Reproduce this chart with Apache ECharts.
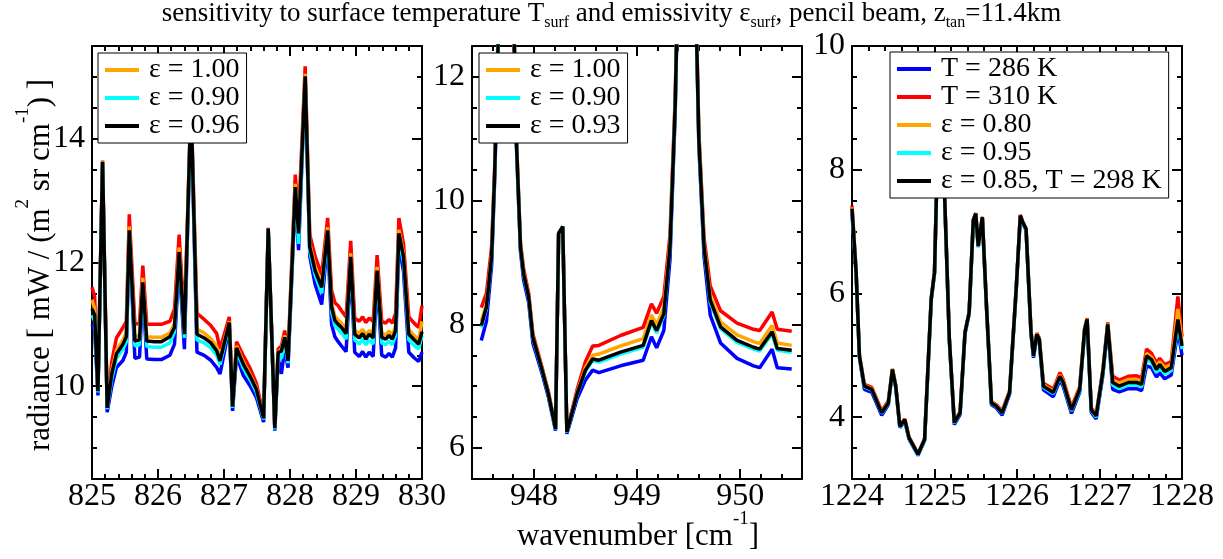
<!DOCTYPE html>
<html>
<head>
<meta charset="utf-8">
<script src="https://cdn.jsdelivr.net/npm/echarts@6/dist/echarts.min.js"></script>
<style>
  html, body { margin: 0; padding: 0; background: #fff; }
  #chart { width: 1223px; height: 559px; }
</style>
</head>
<body>
<div id="chart"></div>
<script>
// ---- panel 1: 825-830 cm-1 (black = eps 0.96) ----
const x1 = [825.00, 825.04, 825.09, 825.16, 825.23, 825.30, 825.37, 825.47, 825.52, 825.565,
  825.65, 825.72, 825.77, 825.83, 825.95, 826.05, 826.18, 826.25, 826.32, 826.40,
  826.50, 826.59, 826.70, 826.80, 826.89, 826.94, 827.08, 827.13, 827.19, 827.29,
  827.40, 827.49, 827.60, 827.67, 827.77, 827.82, 827.87, 827.92, 827.97, 828.08,
  828.13, 828.23, 828.30, 828.38, 828.48, 828.57, 828.63, 828.68, 828.73, 828.78,
  828.85, 828.92, 828.98, 829.05, 829.10, 829.15, 829.20, 829.26, 829.32, 829.39,
  829.45, 829.50, 829.55, 829.60, 829.65, 829.72, 829.80, 829.88, 829.95, 830.00];
const p1Blue = [11.0, 10.9, 9.85, 13.6, 9.58, 10.0, 10.3, 10.42, 10.55, 12.45,
  10.45, 10.47, 11.55, 10.44, 10.43, 10.43, 10.5, 10.68, 12.0, 10.6,
  14.55, 10.55, 10.5, 10.42, 10.3, 10.2, 10.95, 9.6, 10.5, 10.18,
  10.0, 9.82, 9.42, 12.53, 9.28, 10.45, 10.2, 10.6, 10.3, 13.1,
  12.2, 14.95, 12.1, 11.65, 11.32, 12.35, 11.0, 10.8, 10.72, 10.65,
  10.56, 11.95, 10.55, 10.48, 10.56, 10.47, 10.55, 10.48, 11.72, 10.5,
  10.47, 10.53, 10.47, 10.62, 12.3, 11.85, 10.55, 10.46, 10.4, 10.55];
const p1Red = [11.6, 11.45, 9.95, 13.65, 9.68, 10.4, 10.78, 10.95, 11.05, 12.78,
  11.0, 11.02, 11.95, 11.0, 11.0, 11.0, 11.05, 11.25, 12.45, 11.05,
  14.62, 11.18, 11.08, 10.98, 10.85, 10.6, 11.12, 9.7, 10.72, 10.5,
  10.28, 10.05, 9.52, 12.56, 9.33, 10.6, 10.65, 10.9, 10.5, 13.42,
  12.7, 15.17, 12.45, 12.1, 11.8, 12.72, 11.55, 11.35, 11.3, 11.22,
  11.12, 12.35, 11.1, 11.05, 11.12, 11.03, 11.1, 11.05, 12.12, 11.05,
  11.02, 11.08, 11.02, 11.18, 12.72, 12.3, 11.12, 11.02, 10.95, 11.3];
const p1Orange = [11.4, 11.25, 9.93, 13.64, 9.66, 10.25, 10.58, 10.75, 10.87, 12.58,
  10.8, 10.82, 11.75, 10.8, 10.79, 10.79, 10.86, 11.02, 12.24, 10.9,
  14.6, 10.92, 10.86, 10.77, 10.64, 10.46, 11.05, 9.68, 10.65, 10.4,
  10.18, 9.97, 9.5, 12.55, 9.32, 10.55, 10.6, 10.82, 10.44, 13.27,
  12.52, 15.05, 12.3, 11.93, 11.66, 12.57, 11.35, 11.13, 11.07, 11.02,
  10.92, 12.15, 10.9, 10.85, 10.92, 10.83, 10.9, 10.85, 11.93, 10.86,
  10.83, 10.89, 10.83, 10.97, 12.53, 12.15, 10.91, 10.82, 10.75, 11.05];
const p1Cyan = [11.15, 11.05, 9.9, 13.62, 9.63, 10.12, 10.45, 10.6, 10.72, 12.48,
  10.65, 10.67, 11.62, 10.64, 10.63, 10.63, 10.7, 10.88, 12.1, 10.78,
  14.58, 10.75, 10.7, 10.62, 10.5, 10.35, 11.0, 9.65, 10.58, 10.3,
  10.1, 9.9, 9.46, 12.54, 9.3, 10.5, 10.45, 10.72, 10.37, 13.18,
  12.3, 14.98, 12.18, 11.8, 11.5, 12.45, 11.2, 10.98, 10.92, 10.86,
  10.76, 12.02, 10.75, 10.68, 10.76, 10.67, 10.75, 10.68, 11.8, 10.7,
  10.67, 10.73, 10.67, 10.82, 12.4, 12.0, 10.75, 10.66, 10.6, 10.82];
const p1Black = [11.25, 11.15, 9.92, 13.63, 9.65, 10.2, 10.52, 10.68, 10.8, 12.52,
  10.73, 10.75, 11.68, 10.73, 10.72, 10.72, 10.8, 10.95, 12.17, 10.84,
  14.6, 10.84, 10.78, 10.7, 10.57, 10.41, 11.03, 9.67, 10.62, 10.36,
  10.15, 9.95, 9.48, 12.55, 9.32, 10.54, 10.57, 10.79, 10.41, 13.22,
  12.47, 15.01, 12.25, 11.87, 11.6, 12.52, 11.28, 11.06, 11.0, 10.95,
  10.85, 12.09, 10.84, 10.78, 10.85, 10.76, 10.84, 10.78, 11.87, 10.79,
  10.76, 10.82, 10.76, 10.9, 12.47, 12.09, 10.84, 10.75, 10.68, 10.88];

// ---- panel 2: 947.4-950.6 cm-1 (black = eps 0.93) ----
const x2 = [947.49, 947.54, 947.59, 947.62, 947.74, 947.83, 947.87, 947.90, 947.95, 947.99,
  948.08, 948.14, 948.21, 948.24, 948.28, 948.32, 948.42, 948.50, 948.57, 948.63,
  948.84, 949.06, 949.14, 949.19, 949.26, 949.32, 949.37, 949.48, 949.60, 949.65,
  949.71, 949.81, 949.97, 950.13, 950.19, 950.31, 950.36, 950.50];
const p2Blue = [7.74, 8.05, 8.95, 10.35, 18, 10.92, 9.18, 8.72, 8.35, 7.7,
  7.2, 6.83, 6.28, 9.47, 9.58, 6.23, 6.8, 7.1, 7.26, 7.22,
  7.33, 7.42, 7.8, 7.62, 7.9, 9.05, 11.4, 20, 10.88, 9.1,
  8.15, 7.7, 7.45, 7.33, 7.3, 7.6, 7.3, 7.28];
const p2Red = [8.27, 8.5, 9.25, 10.55, 18, 11.05, 9.32, 8.9, 8.5, 7.85,
  7.3, 6.92, 6.33, 9.47, 9.58, 6.28, 6.95, 7.4, 7.65, 7.66,
  7.82, 7.95, 8.33, 8.18, 8.45, 9.45, 11.65, 20, 11.1, 9.4,
  8.62, 8.22, 8.02, 7.92, 7.9, 8.2, 7.92, 7.89];
const p2Orange = [8.05, 8.33, 9.12, 10.47, 18, 11.0, 9.27, 8.84, 8.46, 7.81,
  7.27, 6.89, 6.31, 9.47, 9.58, 6.26, 6.9, 7.3, 7.5, 7.52,
  7.65, 7.77, 8.15, 8.0, 8.27, 9.32, 11.55, 20, 11.02, 9.3,
  8.46, 8.04, 7.83, 7.72, 7.69, 7.98, 7.7, 7.66];
const p2Cyan = [7.95, 8.25, 9.07, 10.44, 18, 10.97, 9.24, 8.8, 8.42, 7.77,
  7.25, 6.87, 6.3, 9.47, 9.58, 6.25, 6.87, 7.24, 7.41, 7.39,
  7.52, 7.63, 8.03, 7.86, 8.14, 9.22, 11.5, 20, 10.96, 9.22,
  8.35, 7.93, 7.71, 7.6, 7.57, 7.85, 7.58, 7.55];
const p2Black = [7.98, 8.28, 9.09, 10.45, 18, 10.98, 9.25, 8.82, 8.44, 7.79,
  7.26, 6.88, 6.31, 9.47, 9.58, 6.26, 6.88, 7.26, 7.44, 7.42,
  7.55, 7.66, 8.06, 7.9, 8.17, 9.25, 11.52, 20, 10.98, 9.25,
  8.39, 7.96, 7.74, 7.63, 7.6, 7.88, 7.61, 7.58];

// ---- panel 3: 1224-1228 cm-1 (black = eps 0.85, T 298 K) ----
const x3 = [1224.00, 1224.05, 1224.09, 1224.15, 1224.24, 1224.36, 1224.44, 1224.49, 1224.53, 1224.58,
  1224.64, 1224.69, 1224.80, 1224.88, 1224.96, 1225.00, 1225.05, 1225.12, 1225.18, 1225.24,
  1225.31, 1225.37, 1225.42, 1225.47, 1225.50, 1225.53, 1225.58, 1225.63, 1225.69, 1225.75,
  1225.82, 1225.91, 1225.99, 1226.04, 1226.07, 1226.11, 1226.17, 1226.20, 1226.24, 1226.27,
  1226.32, 1226.44, 1226.52, 1226.56, 1226.66, 1226.76, 1226.82, 1226.85, 1226.90, 1226.96,
  1227.04, 1227.10, 1227.16, 1227.24, 1227.35, 1227.45, 1227.51, 1227.57, 1227.63, 1227.69,
  1227.73, 1227.79, 1227.87, 1227.95, 1228.00];
const p3Blue = [7.3, 6.3, 4.96, 4.45, 4.4, 4.03, 4.2, 4.75, 4.48, 3.83,
  3.94, 3.65, 3.38, 3.62, 5.89, 6.32, 9.0, 7.67, 5.24, 3.88,
  4.04, 5.35, 5.67, 7.16, 7.27, 6.75, 7.21, 5.78, 4.2, 4.15,
  4.03, 4.37, 6.05, 7.24, 7.13, 7.02, 5.34, 4.96, 5.31, 5.23,
  4.44, 4.33, 4.6, 4.5, 4.06, 4.4, 5.4, 5.56, 4.08, 3.97,
  4.67, 5.46, 4.45, 4.41, 4.46, 4.46, 4.43, 4.83, 4.8, 4.65,
  4.72, 4.62, 4.68, 5.4, 5.0];
const p3Red = [7.42, 6.36, 5.0, 4.53, 4.48, 4.1, 4.26, 4.78, 4.52, 3.86,
  3.97, 3.68, 3.41, 3.65, 5.92, 6.35, 9.0, 7.7, 5.27, 3.92,
  4.09, 5.38, 5.7, 7.19, 7.3, 6.78, 7.24, 5.81, 4.25, 4.2,
  4.1, 4.42, 6.08, 7.27, 7.16, 7.05, 5.39, 5.01, 5.36, 5.28,
  4.55, 4.45, 4.72, 4.61, 4.16, 4.49, 5.44, 5.6, 4.15, 4.05,
  4.76, 5.53, 4.66, 4.6, 4.66, 4.67, 4.63, 5.1, 5.03, 4.88,
  4.95, 4.85, 4.9, 5.95, 5.3];
const p3Orange = [7.39, 6.35, 4.99, 4.51, 4.46, 4.08, 4.24, 4.77, 4.51, 3.85,
  3.96, 3.67, 3.4, 3.64, 5.91, 6.34, 9.0, 7.69, 5.26, 3.91,
  4.08, 5.37, 5.69, 7.18, 7.29, 6.77, 7.23, 5.8, 4.24, 4.19,
  4.08, 4.41, 6.07, 7.26, 7.15, 7.04, 5.38, 5.0, 5.35, 5.27,
  4.52, 4.42, 4.68, 4.58, 4.14, 4.47, 5.43, 5.59, 4.13, 4.03,
  4.74, 5.51, 4.6, 4.55, 4.61, 4.61, 4.58, 5.03, 4.97, 4.82,
  4.9, 4.8, 4.85, 5.75, 5.2];
const p3Cyan = [7.35, 6.33, 4.98, 4.49, 4.44, 4.06, 4.22, 4.76, 4.49, 3.84,
  3.95, 3.66, 3.39, 3.63, 5.9, 6.33, 9.0, 7.68, 5.25, 3.9,
  4.06, 5.36, 5.68, 7.17, 7.28, 6.76, 7.22, 5.79, 4.22, 4.17,
  4.06, 4.39, 6.06, 7.25, 7.14, 7.03, 5.36, 4.98, 5.33, 5.25,
  4.48, 4.38, 4.64, 4.54, 4.1, 4.43, 5.41, 5.57, 4.11, 4.0,
  4.7, 5.49, 4.52, 4.46, 4.52, 4.52, 4.49, 4.94, 4.88, 4.72,
  4.8, 4.7, 4.75, 5.5, 5.1];
const p3Black = [7.37, 6.34, 4.99, 4.5, 4.45, 4.07, 4.23, 4.77, 4.5, 3.85,
  3.96, 3.67, 3.4, 3.64, 5.91, 6.34, 9.0, 7.69, 5.26, 3.91,
  4.07, 5.37, 5.69, 7.18, 7.29, 6.77, 7.23, 5.8, 4.23, 4.18,
  4.07, 4.4, 6.07, 7.26, 7.15, 7.04, 5.37, 4.99, 5.34, 5.26,
  4.5, 4.4, 4.66, 4.56, 4.12, 4.45, 5.42, 5.58, 4.12, 4.02,
  4.72, 5.5, 4.56, 4.5, 4.56, 4.56, 4.53, 4.99, 4.93, 4.77,
  4.85, 4.74, 4.8, 5.58, 5.15];

// tick labels
const xLabels1 = [825, 826, 827, 828, 829, 830];
const xLabels2 = [948, 949, 950];
const xLabels3 = [1224, 1225, 1226, 1227, 1228];
const yLabels1 = [10, 12, 14];
const yLabels2 = [6, 8, 10, 12];
const yLabels3 = [4, 6, 8, 10];

const names1 = ['T = 286 K', 'T = 310 K', 'ε = 1.00', 'ε = 0.90', 'ε = 0.96'];
const names2 = ['T = 286 K', 'T = 310 K', 'ε = 1.00', 'ε = 0.90', 'ε = 0.93'];
const names3 = ['T = 286 K', 'T = 310 K', 'ε = 0.80', 'ε = 0.95', 'ε = 0.85, T = 298 K'];
const colors = ['#0000ff', '#ff0000', '#ffa500', '#00ffff', '#000000'];

const FONT = 'Liberation Serif';
const lefts = [92, 472, 852];

function steps (min, max, step) {
  const out = [];
  const n = Math.round((max - min) / step);
  for (let i = 0; i <= n; i++) out.push(+(min + i * step).toFixed(4));
  return out;
}

// major axis (line + labels) and minor-tick axis, mirrored on the opposite side
function makeAxes (gi, dim, min, max, majors, minorStep) {
  const minors = steps(min, max, minorStep);
  const pos = dim === 'x' ? ['bottom', 'top'] : ['left', 'right'];
  const list = [];
  pos.forEach((p, k) => {
    list.push({
      type: 'value', gridIndex: gi, position: p, min, max,
      axisLine: { show: true, onZero: false, lineStyle: { color: '#000', width: 2 } },
      axisTick: { show: true, inside: true, length: 10, customValues: majors, lineStyle: { color: '#000', width: 2 } },
      axisLabel: {
        show: k === 0, customValues: majors, color: '#000', fontFamily: FONT, fontSize: 32,
        margin: dim === 'x' ? 2 : 7,
        formatter: v => String(v)
      },
      splitLine: { show: false }
    })
    list.push({
      type: 'value', gridIndex: gi, position: p, min, max,
      axisLine: { show: false, onZero: false },
      axisTick: { show: true, inside: true, length: 5, customValues: minors, lineStyle: { color: '#000', width: 2 } },
      axisLabel: { show: false },
      splitLine: { show: false }
    })
  })
  return list
}

const xAxis = [
  ...makeAxes(0, 'x', 825, 830, xLabels1, 0.2),
  ...makeAxes(1, 'x', 947.4, 950.6, xLabels2, 0.2),
  ...makeAxes(2, 'x', 1224, 1228, xLabels3, 0.2)
];
const yAxis = [
  ...makeAxes(0, 'y', 8.5, 15.5, yLabels1, 0.5),
  ...makeAxes(1, 'y', 5.5, 12.5, yLabels2, 0.5),
  ...makeAxes(2, 'y', 3, 10, yLabels3, 0.5)
];

const panels = [
  { xs: x1, ys: [p1Blue, p1Red, p1Orange, p1Cyan, p1Black], names: names1 },
  { xs: x2, ys: [p2Blue, p2Red, p2Orange, p2Cyan, p2Black], names: names2 },
  { xs: x3, ys: [p3Blue, p3Red, p3Orange, p3Cyan, p3Black], names: names3 }
];

const series = [];
panels.forEach((pn, gi) => {
  pn.ys.forEach((ys, k) => {
    series.push({
      type: 'line', name: pn.names[k],
      xAxisIndex: gi * 4, yAxisIndex: gi * 4,
      data: pn.xs.map((x, i) => [x, ys[i]]),
      showSymbol: false, symbol: 'none', clip: true,
      lineStyle: { color: colors[k], width: 3.5 },
      itemStyle: { color: colors[k] },
      emphasis: { disabled: true }
    })
  })
});

const legendBase = {
  orient: 'vertical', selectedMode: false,
  backgroundColor: '#fff', borderColor: '#000', borderWidth: 1, borderRadius: 0,
  padding: [3, 7, 3, 7], itemGap: 0, itemWidth: 34, itemHeight: 4, icon: 'rect',
  textStyle: { fontFamily: FONT, fontSize: 28, lineHeight: 26, color: '#000', padding: [0, 0, 0, 5] }
};

const supRich = {
  n: { fontFamily: FONT, fontSize: 31, lineHeight: 54, fill: '#000' },
  p: { fontFamily: FONT, fontSize: 19, lineHeight: 14, verticalAlign: 'top', fill: '#000' }
};

const chart = echarts.init(document.getElementById('chart'));
chart.setOption({
  backgroundColor: '#fff',
  animation: false,
  title: {
    text: '{n|sensitivity to surface temperature T}{s|surf}{n| and emissivity ε}{s|surf}{n|, pencil beam, z}{s|tan}{n|=11.4km}',
    left: 'center', top: -3, padding: 0,
    textStyle: {
      fontWeight: 'normal',
      rich: {
        n: { fontFamily: FONT, fontSize: 27, fontWeight: 'normal', lineHeight: 34, color: '#000' },
        s: { fontFamily: FONT, fontSize: 16, fontWeight: 'normal', lineHeight: 10, verticalAlign: 'bottom', color: '#000' }
      }
    }
  },
  grid: lefts.map(l => ({ left: l, top: 46, width: 330, height: 433 })),
  xAxis,
  yAxis,
  legend: [
    { ...legendBase, data: names1.slice(2), left: 98, top: 53 },
    { ...legendBase, data: names2.slice(2), left: 479, top: 53 },
    { ...legendBase, data: names3, left: 890, top: 52 }
  ],
  graphic: [
    {
      type: 'text', x: 41, y: 265, rotation: Math.PI / 2,
      style: { text: '{n|radiance [ mW / (m}{p|2}{n| sr cm}{p|-1}{n|) ]}', rich: supRich, align: 'center', verticalAlign: 'middle' }
    },
    {
      type: 'text', x: 638, y: 537,
      style: { text: '{n|wavenumber [cm}{p|-1}{n|]}', rich: supRich, align: 'center', verticalAlign: 'middle' }
    }
  ],
  series
});
</script>
</body>
</html>
